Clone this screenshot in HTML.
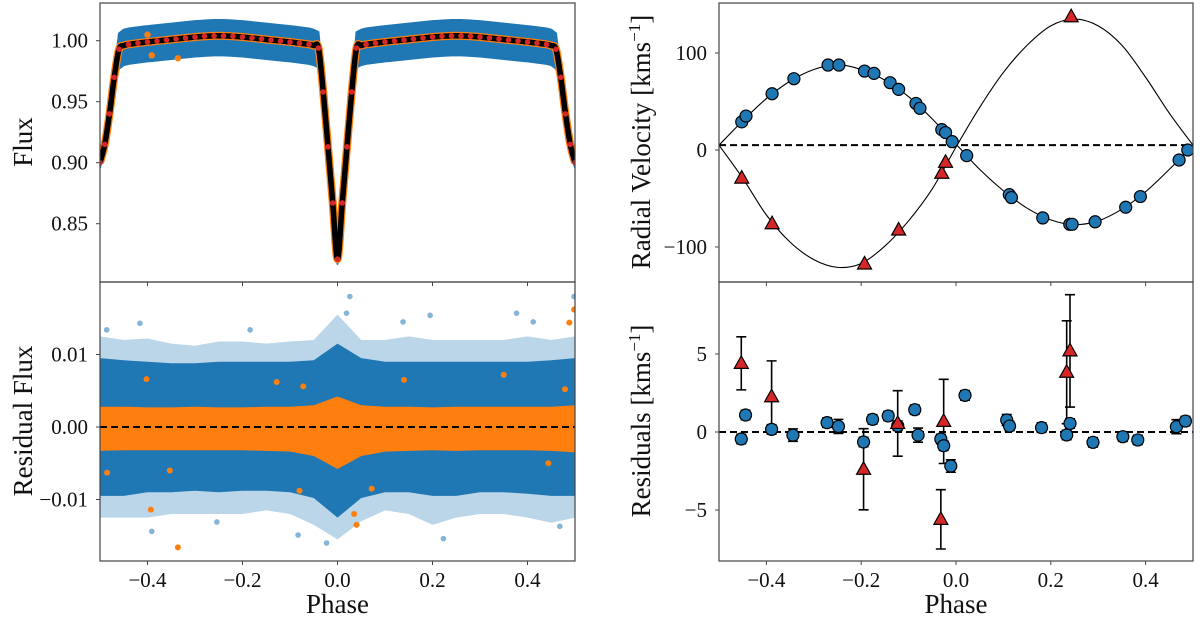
<!DOCTYPE html>
<html><head><meta charset="utf-8"><style>
html,body{margin:0;padding:0;background:#fff}
svg{display:block;font-family:"Liberation Serif","DejaVu Serif",serif}
</style></head><body>
<svg id="fig" width="1200" height="620" viewBox="0 0 1200 620">
<rect x="0" y="0" width="1200" height="620" fill="#fff"/>
<g id="layer"></g>
</svg>
<script>
// ---------- data ----------
const lcPhaseStart = -0.5, lcPhaseStep = 0.01;
const lcModelLeft = [0.900,0.915,0.940,0.970,0.993,0.996,0.997,0.9975,0.998,0.9985,
0.999,0.9994,0.9998,1.0002,1.0006,1.001,1.0014,1.0018,1.0022,1.0026,
1.003,1.0033,1.0036,1.0038,1.004,1.004,1.004,1.0038,1.0036,1.0033,
1.003,1.0026,1.0022,1.0018,1.0014,1.001,1.0006,1.0002,0.9998,0.9994,
0.999,0.9985,0.998,0.9975,0.997,0.996,0.994,0.958,0.913,0.867];
const lcModelCenter = [0.821];
const lcModel = lcModelLeft.concat(lcModelCenter, lcModelLeft.slice().reverse());
const lcBandUpper = 0.013, lcBandLower = 0.016, lcBandEclipse = 0.004;
const lcOrangeOutPhase = [-0.336,-0.391,-0.40];
const lcOrangeOutFlux = [0.9856,0.988,1.005];

const resGridPhase = [-0.5,-0.45,-0.4,-0.35,-0.3,-0.25,-0.2,-0.15,-0.1,-0.05,0,0.05,0.1,0.15,0.2,0.25,0.3,0.35,0.4,0.45,0.5];
const resBlueUpper = [0.0095,0.0092,0.009,0.0088,0.0088,0.009,0.009,0.009,0.009,0.0092,0.0115,0.0095,0.009,0.009,0.009,0.009,0.009,0.009,0.009,0.0092,0.0095];
const resBlueLower = [-0.0095,-0.0095,-0.009,-0.009,-0.0088,-0.009,-0.0088,-0.0088,-0.009,-0.0098,-0.0125,-0.0098,-0.009,-0.009,-0.0095,-0.0095,-0.009,-0.009,-0.0092,-0.0095,-0.0095];
const resBlueOuterUpper = [0.0125,0.012,0.0122,0.0115,0.0112,0.0118,0.0118,0.0115,0.0118,0.012,0.0155,0.012,0.012,0.0125,0.012,0.012,0.012,0.012,0.0125,0.012,0.0125];
const resBlueOuterLower = [-0.0125,-0.0125,-0.0125,-0.012,-0.012,-0.012,-0.012,-0.0115,-0.012,-0.0135,-0.0155,-0.013,-0.0115,-0.012,-0.0135,-0.0125,-0.012,-0.012,-0.0125,-0.0132,-0.0125];
const resOrangeUpper = [0.0028,0.0028,0.0027,0.0027,0.0028,0.0027,0.0027,0.0028,0.0028,0.003,0.0042,0.003,0.0028,0.0028,0.0027,0.0028,0.0028,0.0028,0.0028,0.0028,0.003];
const resOrangeLower = [-0.0033,-0.0032,-0.0032,-0.0032,-0.0032,-0.0032,-0.0032,-0.0033,-0.0034,-0.004,-0.0058,-0.004,-0.0034,-0.0033,-0.0032,-0.0033,-0.0032,-0.0032,-0.0032,-0.0033,-0.0035];
const resBlueOutPhase = [0.026,0.019,-0.416,0.195,0.377,0.498,-0.023,0.223,-0.391,-0.083,0.138,-0.486,0.412,-0.254,0.468,-0.184];
const resBlueOutVal = [0.018,0.0157,0.0143,0.0154,0.0157,0.018,-0.016,-0.0154,-0.0144,-0.0149,0.0145,0.0134,0.0145,-0.0131,-0.0137,0.0134];
const resOrangeOutPhase = [-0.336,0.498,0.488,-0.393,0.040,0.035,-0.402,-0.128,0.14,0.35,-0.485,-0.353,0.444,0.072,-0.08,-0.072,0.479];
const resOrangeOutVal = [-0.0166,0.0162,0.0144,-0.0114,-0.0135,-0.012,0.0066,0.0062,0.0065,0.0072,-0.0063,-0.006,-0.005,-0.0085,-0.0088,0.0056,0.0052];

const rvGamma = 5;
const rvModelPhase = [-0.5,-0.45,-0.4,-0.35,-0.3,-0.25,-0.2,-0.15,-0.1,-0.05,0,0.05,0.1,0.15,0.2,0.25,0.3,0.35,0.4,0.45,0.5];
const rvModelPrimary = [5,30,53,71,83,88,83,72,55,32,6,-20,-42,-60,-72,-77,-73,-61,-43,-20,5];
const rvModelSecondary = [5,-29,-67,-95,-113,-121,-117,-99,-73,-40,3,44,80,108,128,135,128,108,75,38,5];
const rvPrimPhase = [-0.452,-0.443,-0.388,-0.342,-0.270,-0.247,-0.193,-0.173,-0.139,-0.121,-0.0845,-0.076,-0.030,-0.022,-0.008,0.0226,0.1125,0.117,0.183,0.240,0.245,0.2935,0.358,0.389,0.4707,0.489];
const rvPrimVel = [29,35,58,73.5,87.6,87.6,81.4,79,69.4,62.5,48,43,21,18,8.6,-5.8,-46,-49,-70,-76.6,-76.6,-74,-59,-48,-10.3,0];
const rvSecPhase = [-0.452,-0.388,-0.193,-0.121,-0.030,-0.022,0.243];
const rvSecVel = [-29,-76,-117.5,-82.5,-24,-12.7,137.4];

const resPrimPhase = [-0.453,-0.444,-0.389,-0.344,-0.272,-0.248,-0.195,-0.176,-0.143,-0.123,-0.087,-0.080,-0.032,-0.026,-0.011,0.019,0.107,0.113,0.1805,0.2335,0.2405,0.289,0.352,0.3835,0.465,0.484];
const resPrimVal = [-0.45,1.09,0.17,-0.2,0.6,0.36,-0.64,0.81,1.03,0.4,1.43,-0.2,-0.45,-0.88,-2.18,2.35,0.77,0.38,0.28,-0.19,0.55,-0.66,-0.3,-0.51,0.34,0.7];
const resPrimErr = [0.3,0.3,0.3,0.4,0.3,0.45,0.3,0.3,0.3,0.3,0.3,0.45,0.3,0.3,0.4,0.3,0.35,0.3,0.3,0.3,0.3,0.3,0.3,0.3,0.45,0.3];
const resSecPhase = [-0.453,-0.389,-0.195,-0.123,-0.032,-0.026,0.2335,0.2405];
const resSecVal = [4.4,2.26,-2.39,0.55,-5.6,0.68,3.83,5.2];
const resSecErr = [1.7,2.3,2.6,2.1,1.9,2.7,3.3,3.6];

const lxTicks = [-0.4,-0.2,0.0,0.2,0.4];
const lxTickLabels = ["−0.4","−0.2","0.0","0.2","0.4"];
const tlTicks = [1.00,0.95,0.90,0.85];
const tlTickLabels = ["1.00","0.95","0.90","0.85"];
const blTicks = [0.01,0.00,-0.01];
const blTickLabels = ["0.01","0.00","−0.01"];
const trTicks = [100,0,-100];
const trTickLabels = ["100","0","−100"];
const brTicks = [5,0,-5];
const brTickLabels = ["5","0","−5"];

// ---------- scales ----------
const L = {x0:100,x1:575}, R = {x0:719,x1:1193};
const TOP=3, MID=282, BOT=561;
const xL = p => L.x0 + (p+0.5)*(L.x1-L.x0);
const xR = p => R.x0 + (p+0.5)*(R.x1-R.x0);
const yTL = f => 40.7 + (1.0-f)*1220;
const yBL = r => 427 - r*7250;
const yTR = v => 150 - v*0.97;
const yBR = r => 432 - r*15.6;

const NS="http://www.w3.org/2000/svg";
const layer=document.getElementById('layer');
function mk(tag,attrs,parent){const e=document.createElementNS(NS,tag);for(const k in attrs)e.setAttribute(k,attrs[k]);(parent||layer).appendChild(e);return e;}
function group(name,clip){const g=mk('g',clip?{'clip-path':'url(#'+clip+')'}:{});return g;}
function smoothPath(pts){let d='M'+pts[0][0]+','+pts[0][1];for(let i=0;i<pts.length-1;i++){const p0=pts[i-1]||pts[i],p1=pts[i],p2=pts[i+1],p3=pts[i+2]||p2;const c1=[p1[0]+(p2[0]-p0[0])/6,p1[1]+(p2[1]-p0[1])/6],c2=[p2[0]-(p3[0]-p1[0])/6,p2[1]-(p3[1]-p1[1])/6];d+=' C'+c1[0]+','+c1[1]+' '+c2[0]+','+c2[1]+' '+p2[0]+','+p2[1];}return d;}

const defs=mk('defs',{});
[['cTL',L,TOP,MID],['cBL',L,MID,BOT],['cTR',R,TOP,MID],['cBR',R,MID,BOT]].forEach(c=>{const cp=mk('clipPath',{id:c[0]},defs);mk('rect',{x:c[1].x0,y:c[2],width:c[1].x1-c[1].x0,height:c[3]-c[2]},cp);});

// ---------- top-left ----------
const lcPh = lcModel.map((_,i)=>lcPhaseStart+i*lcPhaseStep);
{
  const g=group('light-curve-plot','cTL');
  const up=lcModel.map((f,i)=>[xL(lcPh[i]), yTL(f+(f<0.99?lcBandEclipse:lcBandUpper))]);
  const lo=lcModel.map((f,i)=>[xL(lcPh[i]), yTL(f-(f<0.99?lcBandEclipse:lcBandLower))]);
  const band=mk('path',{d:'M'+up.map(p=>p.join(',')).join(' L')+' L'+lo.reverse().map(p=>p.join(',')).join(' L')+'Z',fill:'#1f77b4',stroke:'#1f77b4','stroke-width':2,'stroke-linejoin':'round'},g);
  
  
  const oband=mk('path',{d:smoothPath(lcModel.map((f,i)=>[xL(lcPh[i]),yTL(f)])),fill:'none',stroke:'#ff7f0e','stroke-width':8,'stroke-linejoin':'round'},g);
  
  
  lcOrangeOutPhase.forEach((p,i)=>{const c=mk('circle',{cx:xL(p),cy:yTL(lcOrangeOutFlux[i]),r:3.2,fill:'#ff7f0e'},g);
    
    });
  const m=mk('path',{d:smoothPath(lcModel.map((f,i)=>[xL(lcPh[i]),yTL(f)])),fill:'none',stroke:'#000','stroke-width':5.5},g);
  
  
  lcModel.forEach((f,i)=>{ if(f>0.99 && i%2===1) return;
    const c=mk('circle',{cx:xL(lcPh[i]),cy:yTL(f),r:2.8,fill:'#d62728'},g);
    
    });
}
// ---------- bottom-left ----------
{
  const g=group('residual-flux-plot','cBL');
  function band(U,Lo,fill,op,name){const up=U.map((v,i)=>[xL(resGridPhase[i]),yBL(v)]);const lo=Lo.map((v,i)=>[xL(resGridPhase[i]),yBL(v)]).reverse();
    const p=mk('path',{d:'M'+up.map(q=>q.join(',')).join(' L')+' L'+lo.map(q=>q.join(',')).join(' L')+'Z',fill:fill,'fill-opacity':op},g);
    
    }
  band(resBlueOuterUpper,resBlueOuterLower,'#1f77b4',0.3,'residual-sparse-band');
  band(resBlueUpper,resBlueLower,'#1f77b4',1,'residual-dense-band');
  resBlueOutPhase.forEach((p,i)=>{const c=mk('circle',{cx:xL(p),cy:yBL(resBlueOutVal[i]),r:2.8,fill:'#1f77b4','fill-opacity':0.55},g);
    
    });
  band(resOrangeUpper,resOrangeLower,'#ff7f0e',1,'binned-residual-band');
  resOrangeOutPhase.forEach((p,i)=>{const c=mk('circle',{cx:xL(p),cy:yBL(resOrangeOutVal[i]),r:3,fill:'#ff7f0e'},g);
    
    });
  const z=mk('line',{x1:L.x0,x2:L.x1,y1:yBL(0),y2:yBL(0),stroke:'#000','stroke-width':2,'stroke-dasharray':'7,4'},g);
  
  
}
function marker(g,type,cx,cy,name){let e;
  if(type==='c'){e=mk('circle',{cx:cx,cy:cy,r:6,fill:'#1f77b4',stroke:'#000','stroke-width':1.2},g);}
  else{e=mk('path',{d:`M${cx},${cy-7.5} L${cx+7},${cy+5} L${cx-7},${cy+5}Z`,fill:'#d62728',stroke:'#000','stroke-width':1.2},g);}
  
  }
// ---------- top-right ----------
{
  const g=group('radial-velocity-plot','cTR');
  const gl=mk('line',{x1:R.x0,x2:R.x1,y1:yTR(rvGamma),y2:yTR(rvGamma),stroke:'#000','stroke-width':2,'stroke-dasharray':'7,4'},g);
  
  
  const p1=mk('path',{d:smoothPath(rvModelPhase.map((p,i)=>[xR(p),yTR(rvModelPrimary[i])])),fill:'none',stroke:'#000','stroke-width':1.1},g);
  
  
  const p2=mk('path',{d:smoothPath(rvModelPhase.map((p,i)=>[xR(p),yTR(rvModelSecondary[i])])),fill:'none',stroke:'#000','stroke-width':1.1},g);
  
  
  rvPrimPhase.forEach((p,i)=>marker(g,'c',xR(p),yTR(rvPrimVel[i]),'primary-rv-point'));
  rvSecPhase.forEach((p,i)=>marker(g,'t',xR(p),yTR(rvSecVel[i]),'secondary-rv-point'));
}
// ---------- bottom-right ----------
{
  const g=group('rv-residuals-plot','cBR');
  const z=mk('line',{x1:R.x0,x2:R.x1,y1:yBR(0),y2:yBR(0),stroke:'#000','stroke-width':2,'stroke-dasharray':'7,4'},g);
  
  
  function err(p,v,e){const x=xR(p),a=yBR(v+e),b=yBR(v-e);
    const eb=mk('path',{d:`M${x},${a} L${x},${b} M${x-5},${a} L${x+5},${a} M${x-5},${b} L${x+5},${b}`,stroke:'#000','stroke-width':1.6,fill:'none'},g);
    
    }
  resSecPhase.forEach((p,i)=>err(p,resSecVal[i],resSecErr[i]));
  resPrimPhase.forEach((p,i)=>err(p,resPrimVal[i],resPrimErr[i]));
  resPrimPhase.forEach((p,i)=>marker(g,'c',xR(p),yBR(resPrimVal[i]),'primary-residual-point'));
  resSecPhase.forEach((p,i)=>marker(g,'t',xR(p),yBR(resSecVal[i]),'secondary-residual-point'));
}
// ---------- axes ----------
function frame(P,t,b,name){const r=mk('rect',{x:P.x0,y:t,width:P.x1-P.x0,height:b-t,fill:'none',stroke:'#444','stroke-width':1.2});
  
  }
frame(L,TOP,MID,'flux-axes-frame');frame(L,MID,BOT,'residual-flux-axes-frame');
frame(R,TOP,MID,'rv-axes-frame');frame(R,MID,BOT,'rv-residual-axes-frame');
function text(x,y,s,size,anchor,name,rot){const t=mk('text',{x:x,y:y,'font-size':size,'text-anchor':anchor,fill:'#111'});
  if(rot)t.setAttribute('transform',`rotate(-90 ${x} ${y})`);
  t.textContent=s;
  
  return t;}
function yTicks(ticks,labels,scale,P,tx,name){ticks.forEach((v,i)=>{const y=scale(v);
  mk('line',{x1:P.x0-4,x2:P.x0,y1:y,y2:y,stroke:'#444','stroke-width':1});
  text(tx,y+7,labels[i],21,'end',name);});}
yTicks(tlTicks,tlTickLabels,yTL,L,88,'flux-tick-label');
yTicks(blTicks,blTickLabels,yBL,L,88,'residual-flux-tick-label');
yTicks(trTicks,trTickLabels,yTR,R,707,'rv-tick-label');
yTicks(brTicks,brTickLabels,yBR,R,707,'rv-residual-tick-label');
function xTicks(P,xs,name){lxTicks.forEach((v,i)=>{const x=xs(v);
  mk('line',{x1:x,x2:x,y1:BOT,y2:BOT+4,stroke:'#444','stroke-width':1});
  mk('line',{x1:x,x2:x,y1:MID,y2:MID+4,stroke:'#444','stroke-width':1});
  text(x,BOT+26,lxTickLabels[i],21,'middle',name);});}
xTicks(L,xL,'phase-tick-label');xTicks(R,xR,'phase-tick-label');
text((L.x0+L.x1)/2,613,'Phase',27,'middle','x-axis-title');
text((R.x0+R.x1)/2,613,'Phase',27,'middle','x-axis-title');
text(32,142,'Flux',27,'middle','flux-axis-title',true);
text(32,421,'Residual Flux',27,'middle','residual-flux-axis-title',true);
const rvt=text(650,142,'',27,'middle','rv-axis-title',true);
rvt.innerHTML='Radial Velocity [kms<tspan dy="-10" font-size="17">−1</tspan><tspan dy="10">]</tspan>';
const rrt=text(650,421,'',27,'middle','rv-residual-axis-title',true);
rrt.innerHTML='Residuals [kms<tspan dy="-10" font-size="17">−1</tspan><tspan dy="10">]</tspan>';
</script>
</body></html>
